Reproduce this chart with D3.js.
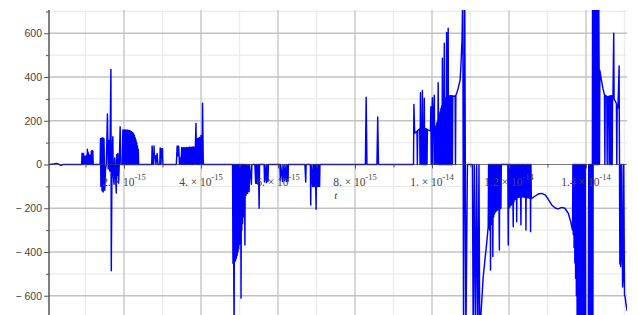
<!DOCTYPE html>
<html>
<head>
<meta charset="utf-8">
<script src="https://cdn.jsdelivr.net/npm/d3@7"></script>
<style>
body { margin: 0; background: #fff; }
svg { display: block; }
</style>
</head>
<body>
<div id="chart"></div>
<script>
// t is in units of 1e-15 s.
// +/-800 stands for "off the chart" (clipped)
var seg0 = [[0.05,0],[0.18,2],[0.24,5],[0.30,2],[0.36,-4],[0.42,0],[0.90,0]]

var segA = [[0.91,52],[0.92,0],[0.93,30],[0.95,50],[0.96,0],[0.97,35],[0.99,38],[1.00,0],[1.01,32],[1.03,42],[1.04,0],
	[1.05,70],[1.06,0],[1.07,56],[1.08,0],[1.09,45],[1.11,38],[1.12,0],[1.13,42],[1.14,0],[1.15,60],[1.16,0],
	[1.17,64],[1.18,0],[1.19,62],[1.20,0],[1.38,0]]

var segB = [[1.39,118],[1.40,-100],[1.42,120],[1.43,-120],[1.45,122],[1.46,-126],[1.48,118],[1.50,-118],[1.52,-20],[1.54,0],
	[1.57,231],[1.59,-20],[1.61,110],[1.63,-30],[1.66,435],[1.67,-486],[1.69,60],[1.71,127],[1.72,-40],[1.74,-90],
	[1.76,30],[1.78,-55],[1.80,-130],[1.81,45],[1.83,-50],[1.84,50],[1.86,-85],[1.88,20],[1.90,173],[1.92,0],[1.96,0],
	[1.97,158],[1.98,0],[1.99,156],[2.00,0],[2.01,158],[2.02,0],[2.03,157],[2.04,0],[2.05,158],[2.06,0],[2.07,156],
	[2.08,0],[2.09,157],[2.10,0],[2.11,155],[2.12,0],[2.13,156],[2.14,0],[2.15,154],[2.16,0],[2.17,152],[2.18,0],
	[2.19,150],[2.20,0],[2.21,148],[2.22,0],[2.23,145],[2.24,0],[2.25,140],[2.26,0],[2.27,133],[2.28,0],[2.29,122],
	[2.30,0],[2.31,112],[2.32,0],[2.33,100],[2.34,0],[2.35,85],[2.36,0],[2.37,70],[2.38,0],[2.72,0]]

var segC = [[2.73,85],[2.75,0],[2.76,40],[2.77,0],[2.78,85],[2.79,30],[2.81,40],[2.83,0],[2.84,30],[2.86,50],[2.88,0],
	[2.93,0],[2.94,75],[2.96,0],[2.97,72],[2.99,30],[3.00,72],[3.01,0],[3.36,0]]

var segD = [[3.38,85],[3.40,40],[3.42,84],[3.44,0],[3.46,30],[3.48,0],[3.50,78],[3.51,0],[3.53,76],[3.54,0],[3.56,78],
	[3.57,0],[3.59,76],[3.60,0],[3.62,78],[3.63,0],[3.65,77],[3.66,0],[3.68,78],[3.69,0],[3.71,80],[3.72,0],[3.74,78],
	[3.75,0],[3.77,80],[3.78,0],[3.80,80],[3.81,0],[3.83,78],[3.84,0],[3.87,188],[3.88,0],[3.90,118],[3.91,0],
	[3.93,120],[3.94,0],[3.96,124],[3.97,0],[4.00,133],[4.01,0],[4.02,125],[4.03,0],[4.04,280],[4.06,0],[4.82,0]]

var segE = [[4.83,-452],[4.84,0],[4.85,-455],[4.86,-800],[4.87,0],[4.88,-445],[4.89,0],[4.90,-438],[4.91,0],[4.92,-428],
	[4.93,0],[4.94,-415],[4.95,0],[4.96,-400],[4.97,0],[4.98,-385],[4.99,0],[5.00,-365],[5.01,0],[5.02,-345],[5.03,0],
	[5.04,-611],[5.05,0],[5.06,-300],[5.07,0],[5.08,-270],[5.09,0],[5.10,-240],[5.11,0],[5.12,-210],[5.13,0],
	[5.14,-368],[5.15,0],[5.17,-140],[5.18,0],[5.21,-132],[5.22,0],[5.25,-124],[5.26,0],[5.31,-90],[5.32,0],[5.40,0],
	[5.42,-86],[5.43,0],[5.44,-86],[5.45,0],[5.46,-86],[5.47,0],[5.48,-86],[5.49,0],[5.51,-200],[5.52,0],[5.64,0],
	[5.65,-80],[5.66,0],[5.70,-82],[5.71,0],[5.74,-78],[5.75,0],[6.05,0],[6.06,-72],[6.07,0],[6.12,-78],[6.13,0],
	[6.17,-74],[6.18,0],[6.22,-78],[6.23,0],[6.26,-76],[6.27,0],[6.70,0],[6.72,-80],[6.73,0],[6.84,0],[6.85,-185],
	[6.86,0],[6.90,-100],[6.91,0],[6.93,-102],[6.94,0],[6.96,-100],[6.97,0],[6.99,-205],[7.00,0],[7.02,-102],[7.03,0],
	[7.05,-100],[7.06,0],[7.08,-100],[7.09,0]]

var segF = [[8.27,0],[8.29,308],[8.31,0],[8.57,0],[8.59,217],[8.61,0],[9.52,0]]

var segG = [[9.53,275],[9.55,143],[9.58,148],[9.61,152],[9.62,0],[9.63,155],[9.66,160],[9.68,163],[9.69,0],[9.70,328],
	[9.71,165],[9.72,0],[9.73,166],[9.74,0],[9.75,338],[9.76,166],[9.77,0],[9.78,166],[9.79,0],[9.80,303],[9.81,0],
	[9.82,165],[9.83,0],[9.84,164],[9.85,0],[9.86,162],[9.87,0],[9.88,160],[9.91,157],[9.94,155],[9.96,154],[9.97,264],
	[9.98,0],[9.99,154],[10.01,305],[10.02,0],[10.03,156],[10.06,317],[10.07,0],[10.08,165],[10.10,175],[10.11,0],
	[10.12,185],[10.14,195],[10.15,0],[10.16,374],[10.17,210],[10.18,0],[10.19,225],[10.20,0],[10.21,240],[10.22,0],
	[10.23,255],[10.24,0],[10.25,268],[10.26,0],[10.27,486],[10.28,0],[10.29,285],[10.30,0],[10.31,295],[10.32,554],
	[10.33,0],[10.34,300],[10.35,0],[10.36,305],[10.37,0],[10.38,604],[10.39,0],[10.40,310],[10.41,0],[10.42,623],
	[10.43,0],[10.44,315],[10.45,0],[10.46,315],[10.47,0],[10.48,315],[10.49,0],[10.50,314],[10.51,0],[10.52,314],
	[10.53,0],[10.54,313],[10.57,312],[10.60,313],[10.61,0],[10.62,316],[10.65,330],[10.68,348],[10.73,386],
	[10.75,447],[10.78,569],[10.80,800]]

var segH = [[10.82,-800],[10.85,800],[10.88,-800],[10.92,0],[11.05,0],[11.07,-800],[11.10,0],[11.13,-800],[11.16,0],
	[11.19,-800],[11.22,0],[11.24,-800],[11.27,-690],[11.33,-513],[11.42,-360],[11.46,-285],[11.47,0],[11.48,-290],
	[11.49,0],[11.50,-300],[11.51,0],[11.52,-482],[11.53,0],[11.54,-275],[11.55,0],[11.56,-260],[11.57,0],[11.58,-421],
	[11.59,0],[11.60,-240],[11.61,0],[11.62,-228],[11.63,0],[11.64,-220],[11.65,0],[11.66,-215],[11.67,0],[11.68,-210],
	[11.69,0],[11.70,-208],[11.71,0],[11.72,-205],[11.73,0],[11.75,-391],[11.76,0],[11.77,-202],[11.78,0],[11.79,-200],
	[11.80,0],[11.97,0]]

var segI = [[11.98,-368],[11.99,0],[12.00,-200],[12.01,0],[12.02,-195],[12.03,0],[12.04,-186],[12.05,0],[12.06,-185],
	[12.07,0],[12.08,-180],[12.09,0],[12.11,-285],[12.12,0],[12.13,-170],[12.14,0],[12.16,-160],[12.17,0],[12.18,-155],
	[12.19,0],[12.20,-262],[12.21,0],[12.22,-152],[12.23,0],[12.24,-150],[12.25,0],[12.26,-150],[12.27,0],[12.28,-148],
	[12.29,0],[12.31,-276],[12.32,0],[12.33,-148],[12.34,0],[12.35,-148],[12.36,0],[12.37,-148],[12.38,0],[12.39,-150],
	[12.40,0],[12.42,-150],[12.43,0],[12.44,-300],[12.45,0],[12.46,-150],[12.47,0],[12.48,-152],[12.49,0],[12.50,-152],
	[12.51,0],[12.52,-153],[12.53,0],[12.54,-154],[12.55,0],[12.56,-307],[12.57,0],[12.58,-155]]

var segJ = [[12.59,-155],[12.68,-144],[12.76,-135],[12.85,-132],[12.94,-139],[13.02,-159],[13.11,-185],[13.21,-200],
	[13.28,-203],[13.37,-196],[13.45,-200],[13.54,-223],[13.60,-260],[13.65,-300],[13.66,0],[13.67,-320],[13.68,0],
	[13.69,-380],[13.70,0],[13.71,-450],[13.72,0],[13.73,-520],[13.74,0],[13.75,-600],[13.76,0],[13.77,-700],[13.78,0],
	[13.79,-800],[13.80,0],[13.81,-800],[13.82,0],[13.83,-800],[13.84,0],[13.85,-800],[13.86,0],[13.87,-800],[13.88,0],
	[13.89,-800],[13.90,0],[13.91,-800],[13.92,0],[13.93,-800],[13.94,0],[13.95,-800],[13.96,0],[13.97,-800],[13.98,0],
	[13.99,-800],[14.06,-800],[14.07,0],[14.08,-800],[14.09,0],[14.10,-800],[14.11,0],[14.12,-800],[14.13,0],
	[14.14,-800],[14.15,0],[14.16,-800],[14.17,800],[14.18,-800],[14.19,800],[14.20,0],[14.21,800],[14.22,0],
	[14.23,800],[14.24,0],[14.25,800],[14.26,0],[14.27,800],[14.28,0],[14.29,800],[14.30,0],[14.31,800],[14.32,0],
	[14.33,800]]

var segK = [[14.34,470],[14.35,0],[14.36,430],[14.40,386],[14.44,348],[14.48,318],[14.49,0],[14.50,316],[14.54,312],
	[14.55,0],[14.56,310],[14.59,311],[14.60,0],[14.61,312],[14.63,313],[14.64,0],[14.65,314],[14.66,0],[14.67,314],
	[14.68,0],[14.69,312],[14.70,305],[14.72,600],[14.73,298],[14.76,290],[14.79,278],[14.80,0],[14.81,270],
	[14.83,258],[14.86,450],[14.87,0],[14.88,-455],[14.89,0],[14.90,-467],[14.92,-390],[14.93,0],[14.95,-560],
	[14.97,-500],[14.98,0],[15.00,-597],[15.02,-610],[15.04,-640],[15.07,-670]]

var series = [].concat(seg0, segA, segB, segC, segD, segE, segF, segG, segH, segI, segJ, segK)

var yMajor = [-600, -400, -200, 0, 200, 400, 600]
var yMinor = [-700, -500, -300, -100, 100, 300, 500, 700]
var xMajor = [2, 4, 6, 8, 10, 12, 14]
var xMinor = [1, 3, 5, 7, 9, 11, 13, 15]
var xExponent = { 2: "-15", 4: "-15", 6: "-15", 8: "-15", 10: "-14", 12: "-14", 14: "-14" }
var xMantissa = { 2: "2.", 4: "4.", 6: "6.", 8: "8.", 10: "1.", 12: "1.2", 14: "1.4" }

var width = 638, height = 315
var plot = { left: 49, right: 627, top: 10, bottom: 315 }

var svg = d3.select("#chart").append("svg")
	.attr("width", width)
	.attr("height", height)

var x = d3.scaleLinear().domain([0, 15]).range([47, 624.5])
var y = d3.scaleLinear().domain([-700, 700]).range([317.6, 11.4])

svg.append("clipPath").attr("id", "clip")
	.append("rect")
	.attr("x", plot.left)
	.attr("y", plot.top)
	.attr("width", plot.right - plot.left)
	.attr("height", plot.bottom - plot.top)

// grid
var grid = svg.append("g")
grid.selectAll(".hminor").data(yMinor).enter().append("line")
	.attr("x1", plot.left).attr("x2", plot.right)
	.attr("y1", d => y(d)).attr("y2", d => y(d))
	.attr("stroke", "#ebebeb").attr("stroke-width", 1.3)
grid.selectAll(".vminor").data(xMinor).enter().append("line")
	.attr("x1", d => x(d)).attr("x2", d => x(d))
	.attr("y1", plot.top).attr("y2", plot.bottom)
	.attr("stroke", "#ebebeb").attr("stroke-width", 1.3)
grid.selectAll(".hmajor").data(yMajor.filter(d => d != 0)).enter().append("line")
	.attr("x1", plot.left).attr("x2", plot.right)
	.attr("y1", d => y(d)).attr("y2", d => y(d))
	.attr("stroke", "#c2c2c2").attr("stroke-width", 1.3)
grid.selectAll(".vmajor").data(xMajor).enter().append("line")
	.attr("x1", d => x(d)).attr("x2", d => x(d))
	.attr("y1", plot.top).attr("y2", plot.bottom)
	.attr("stroke", "#c2c2c2").attr("stroke-width", 1.3)

// the curve
var line = d3.line()
	.x(d => x(d[0]))
	.y(d => y(d[1]))

svg.append("path")
	.datum(series)
	.attr("clip-path", "url(#clip)")
	.attr("fill", "none")
	.attr("stroke", "#0000ff")
	.attr("stroke-width", 1.45)
	.attr("stroke-linejoin", "round")
	.attr("d", line)

// y axis
var yAxis = d3.axisLeft(y)
	.tickValues(yMajor)
	.tickSize(5)
	.tickSizeOuter(0)
	.tickPadding(2)
	.tickFormat(d => d < 0 ? "\u2212 " + Math.abs(d) : String(d))

var gy = svg.append("g")
	.attr("transform", "translate(" + plot.left + ",0)")
	.call(yAxis)
gy.select(".domain").remove()
gy.selectAll("line").attr("stroke", "#555")
gy.selectAll("text")
	.attr("fill", "#444")
	.style("font-family", "'Liberation Sans', Arial, sans-serif")
	.style("font-size", "10.5px")

var gyMinor = svg.append("g")
	.attr("transform", "translate(" + plot.left + ",0)")
	.call(d3.axisLeft(y).tickValues(yMinor).tickSize(3).tickSizeOuter(0).tickFormat(""))
gyMinor.select(".domain").remove()
gyMinor.selectAll("line").attr("stroke", "#555")

svg.append("line")
	.attr("x1", plot.left).attr("x2", plot.left)
	.attr("y1", plot.top).attr("y2", plot.bottom)
	.attr("stroke", "#555").attr("stroke-width", 1.5)

// x axis at zero
var gx = svg.append("g")
	.attr("transform", "translate(0," + y(0) + ")")
	.call(d3.axisBottom(x).tickValues(xMajor).tickSize(4).tickSizeOuter(0).tickFormat(""))
gx.select(".domain").remove()
gx.selectAll("line").attr("stroke", "#555")

var gxMinor = svg.append("g")
	.attr("transform", "translate(0," + y(0) + ")")
	.call(d3.axisBottom(x).tickValues(xMinor.filter(d => d < 15)).tickSize(3).tickSizeOuter(0).tickFormat(""))
gxMinor.select(".domain").remove()
gxMinor.selectAll("line").attr("stroke", "#555")

svg.append("line")
	.attr("x1", plot.left).attr("x2", plot.right)
	.attr("y1", y(0)).attr("y2", y(0))
	.attr("stroke", "#3a3a5a").attr("stroke-opacity", 0.7).attr("stroke-width", 1.2)

var xl = svg.append("g")
	.style("font-family", "'Liberation Serif', 'Times New Roman', serif")
	.attr("fill", "#444")

xMajor.forEach(function(d) {
	var t = xl.append("text")
		.attr("x", x(d))
		.attr("y", y(0) + 21)
		.attr("text-anchor", "middle")
		.style("font-size", "11.5px")
	t.append("tspan").text(xMantissa[d] + " \u00d7 10")
	t.append("tspan").attr("dy", -6).style("font-size", "8.5px").text(xExponent[d])
})

xl.append("text")
	.attr("x", x(7.5))
	.attr("y", y(0) + 34)
	.attr("text-anchor", "middle")
	.style("font-size", "11px")
	.style("font-style", "italic")
	.text("t")
</script>
</body>
</html>
